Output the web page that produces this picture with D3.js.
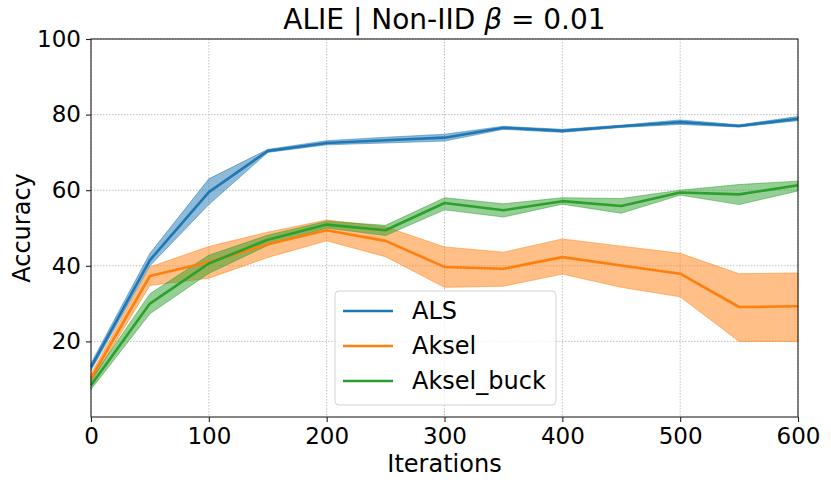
<!DOCTYPE html>
<html>
<head>
<meta charset="utf-8">
<script src="https://cdn.jsdelivr.net/npm/d3@7"></script>
<style>
  body { margin: 0; background: #fff; }
  text { font-family: "DejaVu Sans", sans-serif; fill: #000; }
</style>
</head>
<body>
<div id="diagram"></div>
<script>
// iterations on the x axis
const iterations = [0, 50, 100, 150, 200, 250, 300, 350, 400, 450, 500, 550, 600];

// ALS
const alsMean = [13.2, 41.5, 59.5, 70.4, 72.5, 73.2, 73.9, 76.5, 75.7, 76.9, 78.0, 77.0, 78.9];
const alsLow  = [12.3, 40.0, 56.2, 70.0, 72.0, 72.5, 73.0, 76.1, 75.3, 76.6, 77.4, 76.7, 78.4];
const alsHigh = [14.2, 43.3, 63.0, 70.8, 73.1, 74.0, 74.8, 76.9, 76.1, 77.2, 78.6, 77.3, 79.5];

// Aksel
const akselMean = [10.2, 37.3, 41.0, 45.7, 49.4, 46.6, 39.7, 39.2, 42.3, 40.1, 37.9, 29.1, 29.3];
const akselLow  = [9.2, 34.8, 36.7, 42.2, 46.6, 42.4, 34.3, 34.6, 37.8, 34.3, 31.8, 20.0, 20.0];
const akselHigh = [11.4, 39.7, 45.1, 48.9, 52.1, 50.3, 45.0, 43.6, 47.1, 45.2, 43.3, 37.9, 38.1];

// Aksel_buck
const buckMean = [8.4, 30.0, 40.6, 46.9, 50.9, 49.4, 56.6, 54.7, 57.1, 55.8, 59.4, 58.9, 61.3];
const buckLow  = [7.3, 27.3, 38.0, 45.4, 50.0, 48.0, 54.8, 52.9, 56.3, 53.9, 58.7, 56.2, 59.8];
const buckHigh = [9.9, 32.6, 42.8, 48.1, 51.8, 50.7, 58.0, 56.4, 58.0, 57.8, 60.0, 61.5, 62.4];

const seriesNames = ["ALS", "Aksel", "Aksel_buck"];
const seriesColors = ["#1f77b4", "#ff7f0e", "#2ca02c"];
const xTicks = [0, 100, 200, 300, 400, 500, 600];
const yTicks = [20, 40, 60, 80, 100];

const series = [
  { name: seriesNames[0], color: seriesColors[0], mean: alsMean, low: alsLow, high: alsHigh },
  { name: seriesNames[1], color: seriesColors[1], mean: akselMean, low: akselLow, high: akselHigh },
  { name: seriesNames[2], color: seriesColors[2], mean: buckMean, low: buckLow, high: buckHigh }
];

// set the dimensions and margins of the graph
var margin = { top: 39, right: 33, bottom: 68, left: 91 };
var width = 831 - margin.left - margin.right;
var height = 485 - margin.top - margin.bottom;

var x = d3.scaleLinear().domain([0, 600]).range([0, width]);
var y = d3.scaleLinear().domain([0, 100]).range([height, 0]);

var svg = d3.select("#diagram").append("svg")
  .attr("width", 831)
  .attr("height", 485);

var diagram = svg.append("g")
  .attr("transform", "translate(" + margin.left + "," + margin.top + ")");

// grid
diagram.append("g")
  .selectAll("line")
  .data(xTicks)
  .enter().append("line")
  .attr("x1", function(d) { return x(d); })
  .attr("x2", function(d) { return x(d); })
  .attr("y1", 0)
  .attr("y2", height)
  .attr("stroke", "#b0b0b0")
  .attr("stroke-width", 0.8)
  .attr("stroke-dasharray", "1.5,1.5");

diagram.append("g")
  .selectAll("line")
  .data(yTicks)
  .enter().append("line")
  .attr("x1", 0)
  .attr("x2", width)
  .attr("y1", function(d) { return y(d); })
  .attr("y2", function(d) { return y(d); })
  .attr("stroke", "#b0b0b0")
  .attr("stroke-width", 0.8)
  .attr("stroke-dasharray", "1.5,1.5");

// bands and lines
var area = d3.area()
  .x(function(d) { return x(d.x); })
  .y0(function(d) { return y(d.low); })
  .y1(function(d) { return y(d.high); });

var line = d3.line()
  .x(function(d) { return x(d.x); })
  .y(function(d) { return y(d.mean); });

series.forEach(function(s) {
  var pts = iterations.map(function(it, i) {
    return { x: it, mean: s.mean[i], low: s.low[i], high: s.high[i] };
  });
  diagram.append("path")
    .datum(pts)
    .attr("d", area)
    .attr("fill", s.color)
    .attr("fill-opacity", 0.5)
    .attr("stroke", s.color)
    .attr("stroke-opacity", 0.5)
    .attr("stroke-width", 1);
});

series.forEach(function(s) {
  var pts = iterations.map(function(it, i) {
    return { x: it, mean: s.mean[i] };
  });
  diagram.append("path")
    .datum(pts)
    .attr("d", line)
    .attr("fill", "none")
    .attr("stroke", s.color)
    .attr("stroke-width", 2.6)
    .attr("stroke-linejoin", "round");
});

// frame
diagram.append("rect")
  .attr("width", width)
  .attr("height", height)
  .attr("fill", "none")
  .attr("stroke", "#222")
  .attr("stroke-width", 1.1);

// axes
var xAxis = diagram.append("g")
  .attr("transform", "translate(0," + height + ")")
  .call(d3.axisBottom(x).tickValues(xTicks).tickSize(5).tickPadding(5));

var yAxis = diagram.append("g")
  .call(d3.axisLeft(y).tickValues(yTicks).tickSize(5).tickPadding(5));

[xAxis, yAxis].forEach(function(a) {
  a.select(".domain").remove();
  a.selectAll("line").attr("stroke", "#222").attr("stroke-width", 1.1);
  a.selectAll("text")
    .attr("font-size", 23)
    .attr("font-family", "DejaVu Sans, sans-serif")
    .attr("fill", "#000");
});

xAxis.selectAll(".tick text").attr("dy", "0.75em");

// axis labels
svg.append("text")
  .attr("x", margin.left + width / 2)
  .attr("y", 472)
  .attr("text-anchor", "middle")
  .attr("font-size", 24)
  .text("Iterations");

svg.append("text")
  .attr("transform", "translate(30," + (margin.top + height / 2) + ") rotate(-90)")
  .attr("text-anchor", "middle")
  .attr("font-size", 24)
  .text("Accuracy");

// title
var title = svg.append("text")
  .attr("x", margin.left + width / 2)
  .attr("y", 29)
  .attr("text-anchor", "middle")
  .attr("font-size", 28);
title.append("tspan").text("ALIE | Non-IID ");
title.append("tspan").attr("font-style", "italic").text("\u03b2");
title.append("tspan").text(" = 0.01");

// legend
var legend = svg.append("g").attr("transform", "translate(335,291)");
legend.append("rect")
  .attr("width", 221)
  .attr("height", 114)
  .attr("rx", 4)
  .attr("fill", "#fff")
  .attr("fill-opacity", 0.8)
  .attr("stroke", "#d5d5d5")
  .attr("stroke-width", 1);

var rows = legend.selectAll(".row")
  .data(series)
  .enter().append("g")
  .attr("class", "row")
  .attr("transform", function(d, i) { return "translate(0," + (20 + i * 35) + ")"; });

rows.append("line")
  .attr("x1", 8)
  .attr("x2", 58)
  .attr("stroke", function(d) { return d.color; })
  .attr("stroke-width", 2.6);

rows.append("text")
  .attr("x", 77)
  .attr("dy", "0.35em")
  .attr("font-size", 24)
  .text(function(d) { return d.name; });
</script>
</body>
</html>
